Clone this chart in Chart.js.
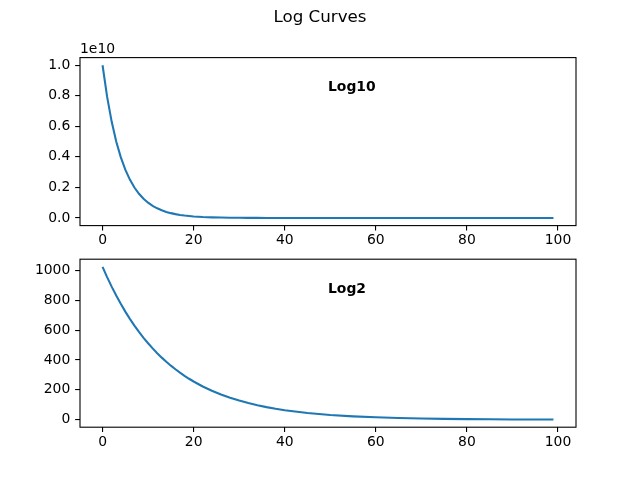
<!DOCTYPE html>
<html>
<head>
<meta charset="utf-8">
<script src="https://cdn.jsdelivr.net/npm/chart.js@4/dist/chart.umd.min.js"></script>
<style>
  html, body { margin: 0; padding: 0; background: #ffffff; }
  #wrap { position: relative; width: 640px; height: 480px; background: #ffffff; }
  canvas { position: absolute; left: 0; top: 0; }
</style>
</head>
<body>
<div id="wrap">
  <canvas id="c1" width="640" height="480"></canvas>
  <canvas id="c2" width="640" height="480"></canvas>
</div>
<script>
// ---- data ----
const figureTitle = "Log Curves";
const xValues = [0,1,2,3,4,5,6,7,8,9,10,11,12,13,14,15,16,17,18,19,20,
                 22,24,26,28,30,32,34,36,38,40,45,50,55,60,65,70,75,80,85,90,95,99];
// top panel, in units of 1e10
const log10Scale = 1e10;
const log10Values = [1,0.7943,0.6310,0.5012,0.3981,0.3162,0.2512,0.1995,0.1585,0.1259,0.1,
                     0.0794,0.0631,0.0501,0.0398,0.0316,0.0251,0.0200,0.0158,0.0126,0.01,
                     0.0063,0.0040,0.0025,0.0016,0.0010,0.00063,0.0004,0.00025,0.00016,0.0001,
                     0.00003,0.00001,0.000003,0.000001,0,0,0,0,0,0,0,0];
const log2Values = [1024,955.43,891.44,831.75,776.05,724.08,675.59,630.35,588.13,548.75,512,
                    477.71,445.72,415.87,388.02,362.04,337.79,315.17,294.07,274.37,256,
                    222.86,194.01,168.90,147.03,128,111.43,97.01,84.45,73.52,64,
                    45.25,32,22.63,16,11.31,8,5.66,4,2.83,2,1.41,1.07];
const xTicks = [0,20,40,60,80,100];
const log10Ticks = [0,0.2,0.4,0.6,0.8,1.0];
const log10TickLabels = ["0.0","0.2","0.4","0.6","0.8","1.0"];
const log2Ticks = [0,200,400,600,800,1000];
const log2TickLabels = ["0","200","400","600","800","1000"];
const panelLabels = ["Log10","Log2"];

// ---- styling ----
const FONT = "'DejaVu Sans', 'Liberation Sans', sans-serif";
const FS = 13.9;
const LINE_COLOR = "#1f77b4";

function makeXScale() {
  return {
    type: 'linear',
    min: -4.95, max: 103.95,
    afterFit: s => { s.height = 30; },
    afterBuildTicks: s => { s.ticks = xTicks.map(v => ({ value: v })); },
    ticks: { color: '#000', font: { family: FONT, size: FS }, padding: 2, maxRotation: 0, autoSkip: false,
             callback: v => String(v) },
    grid: { display: true, drawOnChartArea: false, drawTicks: true, tickLength: 4.86, color: '#000', lineWidth: 1.1 },
    border: { display: false }
  };
}
function makeYScale(min, max, ticks, labels) {
  return {
    type: 'linear',
    min: min, max: max,
    afterFit: s => { s.width = 80; },
    afterBuildTicks: s => { s.ticks = ticks.map(v => ({ value: v })); },
    ticks: { color: '#000', font: { family: FONT, size: FS }, padding: 4.86, autoSkip: false,
             callback: (v) => { const i = ticks.findIndex(t => Math.abs(t - v) < 1e-9); return i >= 0 ? labels[i] : ''; } },
    grid: { display: true, drawOnChartArea: false, drawTicks: true, tickLength: 4.86, color: '#000', lineWidth: 1.1 },
    border: { display: false }
  };
}

function boxAndTextPlugin(label, extra) {
  return {
    id: 'boxText',
    afterDraw(chart) {
      const ctx = chart.ctx, a = chart.chartArea;
      ctx.save();
      ctx.strokeStyle = '#000';
      ctx.lineWidth = 1.1;
      ctx.strokeRect(a.left, a.top, a.right - a.left, a.bottom - a.top);
      ctx.fillStyle = '#000';
      ctx.font = 'bold ' + FS + 'px ' + FONT;
      ctx.textAlign = 'left';
      ctx.textBaseline = 'alphabetic';
      ctx.fillText(label, a.left + 0.5 * (a.right - a.left), a.bottom - 0.8 * (a.bottom - a.top));
      if (extra) extra(ctx, a);
      ctx.restore();
    }
  };
}

const common = {
  responsive: false,
  animation: false,
  devicePixelRatio: 1,
  plugins: { legend: { display: false }, title: { display: false }, tooltip: { enabled: false } },
  elements: { point: { radius: 0 }, line: { tension: 0 } }
};

new Chart(document.getElementById('c1'), {
  type: 'line',
  data: {
    datasets: [{
      data: xValues.map((x, i) => ({ x: x, y: log10Values[i] })),
      borderColor: LINE_COLOR, borderWidth: 2.08, fill: false, pointRadius: 0
    }]
  },
  options: Object.assign({}, common, {
    layout: { padding: { left: 0, right: 64, top: 57.6, bottom: 480 - 225.6 - 30 } },
    scales: { x: makeXScale(), y: makeYScale(-0.05, 1.05, log10Ticks, log10TickLabels) }
  }),
  plugins: [boxAndTextPlugin(panelLabels[0], (ctx, a) => {
    ctx.font = FS + 'px ' + FONT;
    ctx.textAlign = 'left';
    ctx.fillText('1e' + Math.round(Math.log10(log10Scale)), a.left, a.top - 4.8);
    ctx.font = '16.7px ' + FONT;
    ctx.textAlign = 'center';
    ctx.fillText(figureTitle, 320, 21.5);
  })]
});

new Chart(document.getElementById('c2'), {
  type: 'line',
  data: {
    datasets: [{
      data: xValues.map((x, i) => ({ x: x, y: log2Values[i] })),
      borderColor: LINE_COLOR, borderWidth: 2.08, fill: false, pointRadius: 0
    }]
  },
  options: Object.assign({}, common, {
    layout: { padding: { left: 0, right: 64, top: 259.2, bottom: 480 - 427.2 - 30 } },
    scales: { x: makeXScale(), y: makeYScale(-50.08, 1075.15, log2Ticks, log2TickLabels) }
  }),
  plugins: [boxAndTextPlugin(panelLabels[1])]
});
</script>
</body>
</html>
